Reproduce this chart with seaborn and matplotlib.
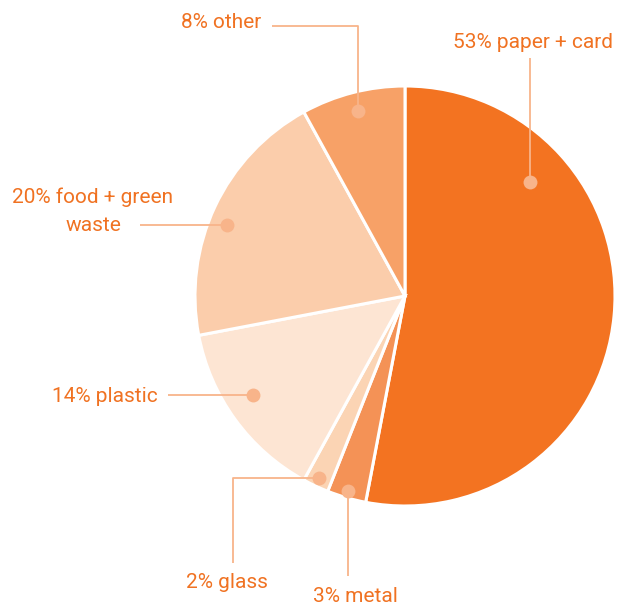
import matplotlib
matplotlib.use("Agg")
import matplotlib.pyplot as plt
import seaborn as sns

categories = ["paper + card", "metal", "glass", "plastic", "food + green\nwaste", "other"]
values = [53, 3, 2, 14, 20, 8]
colors = ["#F37321", "#F49256", "#FBD4B4", "#FDE5D3", "#FBCDAB", "#F7A167"]

sns.set_theme(style="white")
plt.rcParams["font.family"] = ["Roboto", "DejaVu Sans"]

W, H = 626, 608
fig = plt.figure(figsize=(W / 100, H / 100), dpi=100)
ax = fig.add_axes([0, 0, 1, 1])

cx, cy, r = 405, H - 296, 210
ax.pie(values, colors=colors, startangle=90, counterclock=False,
       center=(cx, cy), radius=r, frame=True,
       wedgeprops=dict(edgecolor="white", linewidth=2.2))
ax.set_xlim(0, W)
ax.set_ylim(0, H)
ax.set_aspect("equal")
ax.axis("off")

line_c = "#F8B48A"
text_c = "#F07222"
fs = 15

def Y(py):
    return H - py

callouts = [
    ((530, 182), [(530, 182), (530, 58)], (533, 42)),
    ((348, 491), [(348, 491), (348, 576)], (355, 597)),
    ((319, 478), [(319, 478), (233, 478), (233, 563)], (227, 583)),
    ((253, 395), [(253, 395), (168, 395)], (105, 396)),
    ((227, 225), [(227, 225), (140, 225)], (93, 211)),
    ((358, 111), [(358, 111), (358, 26), (272, 26)], (221, 22)),
]

for (cat, val), (dot, pts, tpos) in zip(zip(categories, values), callouts):
    xs = [p[0] for p in pts]
    ys = [Y(p[1]) for p in pts]
    ax.plot(xs, ys, color=line_c, lw=1.3, solid_capstyle="butt", zorder=3)
    ax.plot([dot[0]], [Y(dot[1])], "o", ms=10, color=line_c, mec="none", zorder=4)
    ax.text(tpos[0], Y(tpos[1]), f"{val}% {cat}", color=text_c, fontsize=fs,
            ha="center", va="center", linespacing=1.6, zorder=5)

fig.savefig("out.png", dpi=100, facecolor="white")
